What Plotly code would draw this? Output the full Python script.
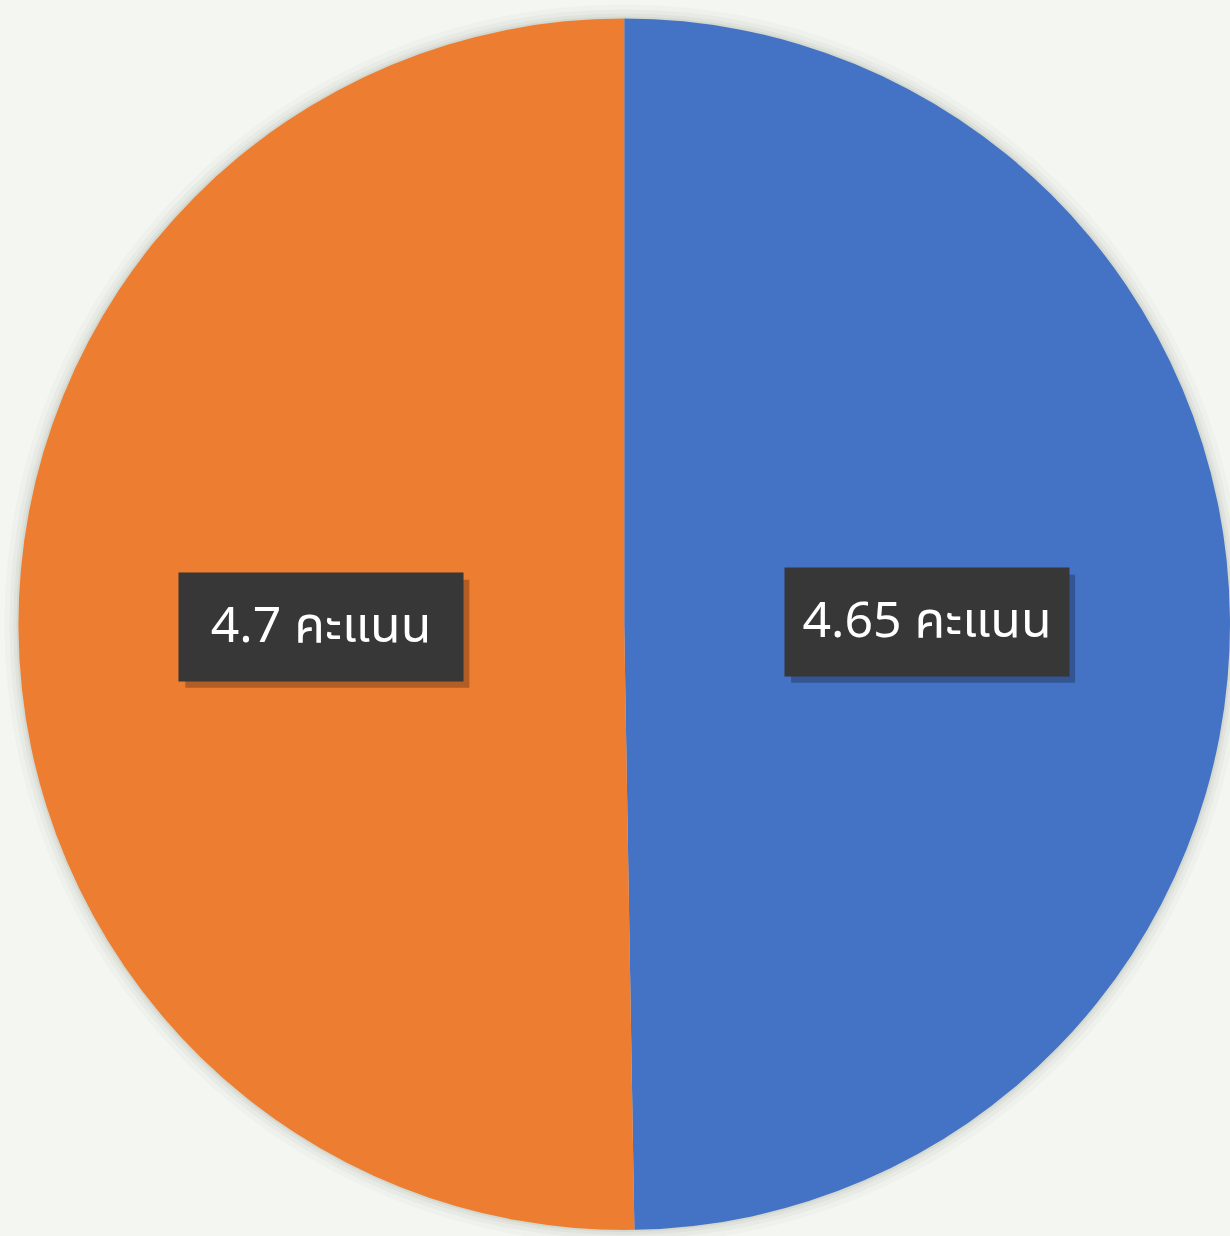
import math
import plotly.graph_objects as go

# ---- data ----
categories = ["ชุดที่ 1", "ชุดที่ 2"]
scores = [4.65, 4.7]
unit = "คะแนน"
colors = ["#4472C4", "#ED7D31"]

W, H = 1230, 1236
dom_x = [0.015, 1.0]
dom_y = [0.0, 0.99]

fig = go.Figure(go.Pie(
    labels=categories,
    values=scores,
    sort=False,
    direction="clockwise",
    rotation=0,
    marker=dict(colors=colors, line=dict(width=0)),
    textinfo="none",
    hoverinfo="label+value",
    showlegend=False,
    domain=dict(x=dom_x, y=dom_y),
))

# pie geometry (pixels) derived from the domain
dw = (dom_x[1] - dom_x[0]) * W
dh = (dom_y[1] - dom_y[0]) * H
r = min(dw, dh) / 2
cx = dom_x[0] * W + dw / 2
cy = dom_y[0] * H + dh / 2  # from bottom

# soft shadow rings behind the pie
for extra, alpha in [(14, 0.025), (9, 0.035), (5, 0.05), (2, 0.07)]:
    fig.add_shape(
        type="circle", xref="paper", yref="paper", layer="below",
        x0=(cx - r - extra) / W, x1=(cx + r + extra) / W,
        y0=(cy - r - extra) / H, y1=(cy + r + extra) / H,
        fillcolor=f"rgba(60,70,60,{alpha})", line=dict(width=0),
    )

FONT = "Tahoma, Noto Sans Thai, Noto Sans, DejaVu Sans"
BOX_W, BOX_H = 284, 108
total = sum(scores)
start = 0.0
for v in scores:
    frac = v / total
    mid = (start + frac / 2) * 2 * math.pi
    start += frac
    px = cx + 0.5 * r * math.sin(mid)
    py = cy + 0.5 * r * math.cos(mid)
    txt = f"{v:g} {unit}"
    # drop shadow of the label box
    fig.add_shape(
        type="rect", xref="paper", yref="paper", layer="above",
        xsizemode="pixel", ysizemode="pixel",
        xanchor=px / W, yanchor=py / H,
        x0=-BOX_W / 2 + 6, x1=BOX_W / 2 + 6,
        y0=-BOX_H / 2 - 7, y1=BOX_H / 2 - 7,
        fillcolor="rgba(0,0,0,0.25)", line=dict(width=0),
    )
    fig.add_annotation(
        x=px / W, y=py / H, xref="paper", yref="paper",
        xanchor="center", yanchor="middle",
        text=txt, showarrow=False,
        font=dict(family=FONT, size=50, color="#ffffff"),
        bgcolor="#373737", width=BOX_W - 8, height=BOX_H - 8, borderpad=4,
    )

fig.update_layout(
    width=W, height=H,
    margin=dict(l=0, r=0, t=0, b=0),
    paper_bgcolor="#f4f6f1",
    plot_bgcolor="#f4f6f1",
)

fig.write_html(
    "out.html",
    config={"displayModeBar": False},
    post_script="document.body.style.margin='0';document.body.style.overflow='hidden';document.body.style.background='#f4f6f1';",
)
